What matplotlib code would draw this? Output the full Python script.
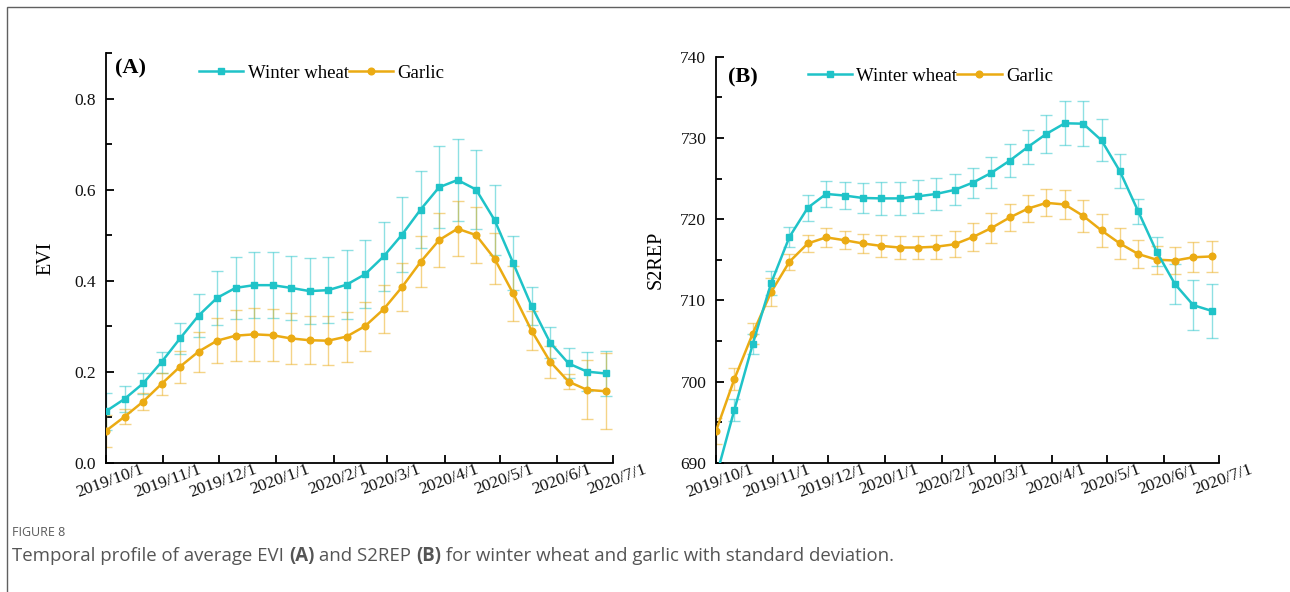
import numpy as np
import matplotlib
matplotlib.use("Agg")
import matplotlib.pyplot as plt
import matplotlib.dates as mdates
import matplotlib.transforms as mtransforms
from matplotlib.ticker import MultipleLocator, FormatStrFormatter
from matplotlib.patches import Rectangle

# ---- data -------------------------------------------------------------
dates = ["2019-10-01", "2019-10-11", "2019-10-21", "2019-10-31", "2019-11-10",
         "2019-11-20", "2019-11-30", "2019-12-10", "2019-12-20", "2019-12-30",
         "2020-01-09", "2020-01-19", "2020-01-29", "2020-02-08", "2020-02-18",
         "2020-02-28", "2020-03-09", "2020-03-19", "2020-03-29", "2020-04-08",
         "2020-04-18", "2020-04-28", "2020-05-08", "2020-05-18", "2020-05-28",
         "2020-06-07", "2020-06-17", "2020-06-27"]

evi_wheat = [0.113, 0.140, 0.174, 0.221, 0.273, 0.323, 0.362, 0.384, 0.390, 0.390,
             0.384, 0.377, 0.379, 0.391, 0.414, 0.453, 0.501, 0.556, 0.605, 0.621,
             0.600, 0.533, 0.439, 0.344, 0.264, 0.218, 0.200, 0.196]
evi_wheat_sd = [0.041, 0.029, 0.024, 0.023, 0.034, 0.047, 0.059, 0.068, 0.073, 0.073,
                0.071, 0.072, 0.073, 0.076, 0.075, 0.076, 0.082, 0.085, 0.090, 0.090,
                0.087, 0.076, 0.059, 0.041, 0.035, 0.033, 0.043, 0.050]
evi_garlic = [0.070, 0.101, 0.134, 0.173, 0.211, 0.244, 0.268, 0.279, 0.282, 0.280,
              0.273, 0.269, 0.268, 0.277, 0.300, 0.337, 0.386, 0.441, 0.489, 0.514,
              0.500, 0.448, 0.372, 0.290, 0.222, 0.178, 0.160, 0.157]
evi_garlic_sd = [0.035, 0.017, 0.019, 0.024, 0.035, 0.044, 0.050, 0.056, 0.058, 0.057,
                 0.056, 0.053, 0.054, 0.055, 0.054, 0.053, 0.053, 0.056, 0.060, 0.060,
                 0.062, 0.056, 0.060, 0.043, 0.035, 0.017, 0.065, 0.083]

s2rep_wheat = [688.2, 696.5, 704.6, 712.1, 717.8, 721.4, 723.1, 722.9, 722.6, 722.55,
               722.55, 722.8, 723.1, 723.6, 724.5, 725.7, 727.2, 728.9, 730.5, 731.8,
               731.75, 729.7, 725.9, 720.95, 716.0, 712.0, 709.4, 708.7]
s2rep_wheat_sd = [1.4, 1.4, 1.2, 1.5, 1.2, 1.6, 1.6, 1.7, 1.9, 2.05,
                  2.0, 2.0, 1.95, 1.9, 1.85, 1.9, 2.0, 2.1, 2.35, 2.7,
                  2.75, 2.6, 2.1, 1.5, 1.75, 2.45, 3.1, 3.3]
s2rep_garlic = [693.9, 700.3, 705.9, 711.0, 714.75, 717.0, 717.75, 717.4, 717.0, 716.7,
                716.5, 716.5, 716.6, 716.9, 717.8, 718.9, 720.2, 721.3, 722.0, 721.8,
                720.4, 718.6, 717.0, 715.7, 715.0, 714.9, 715.3, 715.4]
s2rep_garlic_sd = [1.6, 1.35, 1.3, 1.7, 1.0, 1.1, 1.15, 1.1, 1.2, 1.35,
                   1.4, 1.45, 1.5, 1.6, 1.7, 1.8, 1.7, 1.65, 1.65, 1.8,
                   2.0, 2.05, 1.9, 1.75, 1.7, 1.7, 1.85, 1.9]

month_ticks = ["2019-10-01", "2019-11-01", "2019-12-01", "2020-01-01", "2020-02-01",
               "2020-03-01", "2020-04-01", "2020-05-01", "2020-06-01", "2020-07-01"]
month_labels = ["2019/10/1", "2019/11/1", "2019/12/1", "2020/1/1", "2020/2/1",
                "2020/3/1", "2020/4/1", "2020/5/1", "2020/6/1", "2020/7/1"]

WHEAT = "#1fc3c8"
GARLIC = "#ebab13"
SERIF = "Liberation Serif"
CAP = "Open Sans"

plt.rcParams["font.family"] = [SERIF, "DejaVu Serif"]

# ---- figure -----------------------------------------------------------
W, H = 1290, 592
fig = plt.figure(figsize=(W / 100, H / 100), dpi=100)
fig.patch.set_facecolor("white")

x = mdates.date2num(np.array(dates, dtype="datetime64[D]"))
xt = mdates.date2num(np.array(month_ticks, dtype="datetime64[D]"))


def px_axes(left, top, right, bottom):
    return fig.add_axes([left / W, 1 - bottom / H, (right - left) / W, (bottom - top) / H])


def draw_panel(ax, wheat, wheat_sd, garlic, garlic_sd, ylim, major, minor, fmt,
               ylabel, tag, tag_xy, leg_xy, label_x):
    ax.errorbar(x, wheat, yerr=wheat_sd, fmt="none", ecolor=WHEAT, alpha=0.5,
                elinewidth=1.0, capsize=4, capthick=1.0, zorder=2)
    ax.errorbar(x, garlic, yerr=garlic_sd, fmt="none", ecolor=GARLIC, alpha=0.5,
                elinewidth=1.0, capsize=4, capthick=1.0, zorder=2)
    ax.plot(x, wheat, color=WHEAT, lw=1.8, marker="s", ms=4.2, zorder=4,
            label="Winter wheat")
    ax.plot(x, garlic, color=GARLIC, lw=1.8, marker="o", ms=4.8, zorder=3,
            label="Garlic")

    ax.set_xlim(xt[0], xt[-1])
    ax.set_ylim(*ylim)
    ax.set_xticks(xt)
    ax.set_xticklabels(month_labels, rotation=20, ha="center")
    ax.yaxis.set_major_locator(MultipleLocator(major))
    ax.yaxis.set_minor_locator(MultipleLocator(minor))
    ax.yaxis.set_major_formatter(FormatStrFormatter(fmt))

    for side in ("top", "right"):
        ax.spines[side].set_visible(False)
    for side in ("left", "bottom"):
        ax.spines[side].set_linewidth(1.3)
    ax.tick_params(axis="both", which="major", direction="in", length=6, width=1.3,
                   labelsize=12.5, labelcolor="#111111")
    ax.tick_params(axis="y", which="minor", direction="in", length=4, width=1.3)
    ax.tick_params(axis="x", which="major", pad=-1)
    ax.tick_params(axis="y", which="both", pad=7)

    # nudge the slanted date labels slightly to the right
    shift = mtransforms.ScaledTranslation(4 / 100, 0, fig.dpi_scale_trans)
    for lab in ax.get_xticklabels():
        lab.set_transform(lab.get_transform() + shift)

    ax.set_ylabel(ylabel, fontsize=14.5)
    ax.yaxis.set_label_coords(label_x, 0.5)

    ax.text(tag_xy[0], tag_xy[1], tag, transform=ax.transAxes,
            fontweight="bold", fontsize=16, ha="center", va="center")

    ax.legend(loc="center left", bbox_to_anchor=leg_xy, ncol=2, frameon=False,
              prop={"size": 13.5}, handlelength=2.35,
              handletextpad=0.25, columnspacing=0.0, borderpad=0,
              borderaxespad=0, markerscale=1.0)


axA = px_axes(106, 53, 613, 462.7)
draw_panel(axA, evi_wheat, evi_wheat_sd, evi_garlic, evi_garlic_sd,
           (0.0, 0.9), 0.2, 0.1, "%.1f", "EVI", "(A)", (0.049, 0.963),
           (0.1834, 0.951), -0.1006)

axB = px_axes(716, 56.7, 1219, 462.7)
draw_panel(axB, s2rep_wheat, s2rep_wheat_sd, s2rep_garlic, s2rep_garlic_sd,
           (690, 740), 10, 5, "%d", "S2REP", "(B)", (0.054, 0.95),
           (0.1823, 0.952), -0.0994)

# ---- outer frame ------------------------------------------------------
fig.patches.append(Rectangle((7 / W, -0.5), 2.0, 1.5 - 7 / H, transform=fig.transFigure,
                             fill=False, edgecolor="#606060", linewidth=1.0))

# ---- caption ----------------------------------------------------------
fig.text(12 / W, 1 - 533 / H, "FIGURE 8", fontfamily=CAP, fontsize=9,
         color="#5a5a5a", va="center", ha="left")

parts = [("Temporal profile of average EVI ", "normal"), ("(A)", "bold"),
         (" and S2REP ", "normal"), ("(B)", "bold"),
         (" for winter wheat and garlic with standard deviation.", "normal")]
fig.canvas.draw()
renderer = fig.canvas.get_renderer()
xpos = 12.0
for txt, weight in parts:
    t = fig.text(xpos / W, 1 - 556 / H, txt, fontfamily=CAP, fontsize=13.45,
                 fontweight=weight, color="#555555", va="center", ha="left")
    bb = t.get_window_extent(renderer=renderer)
    xpos += bb.width

fig.savefig("out.png", dpi=100, facecolor="white")
